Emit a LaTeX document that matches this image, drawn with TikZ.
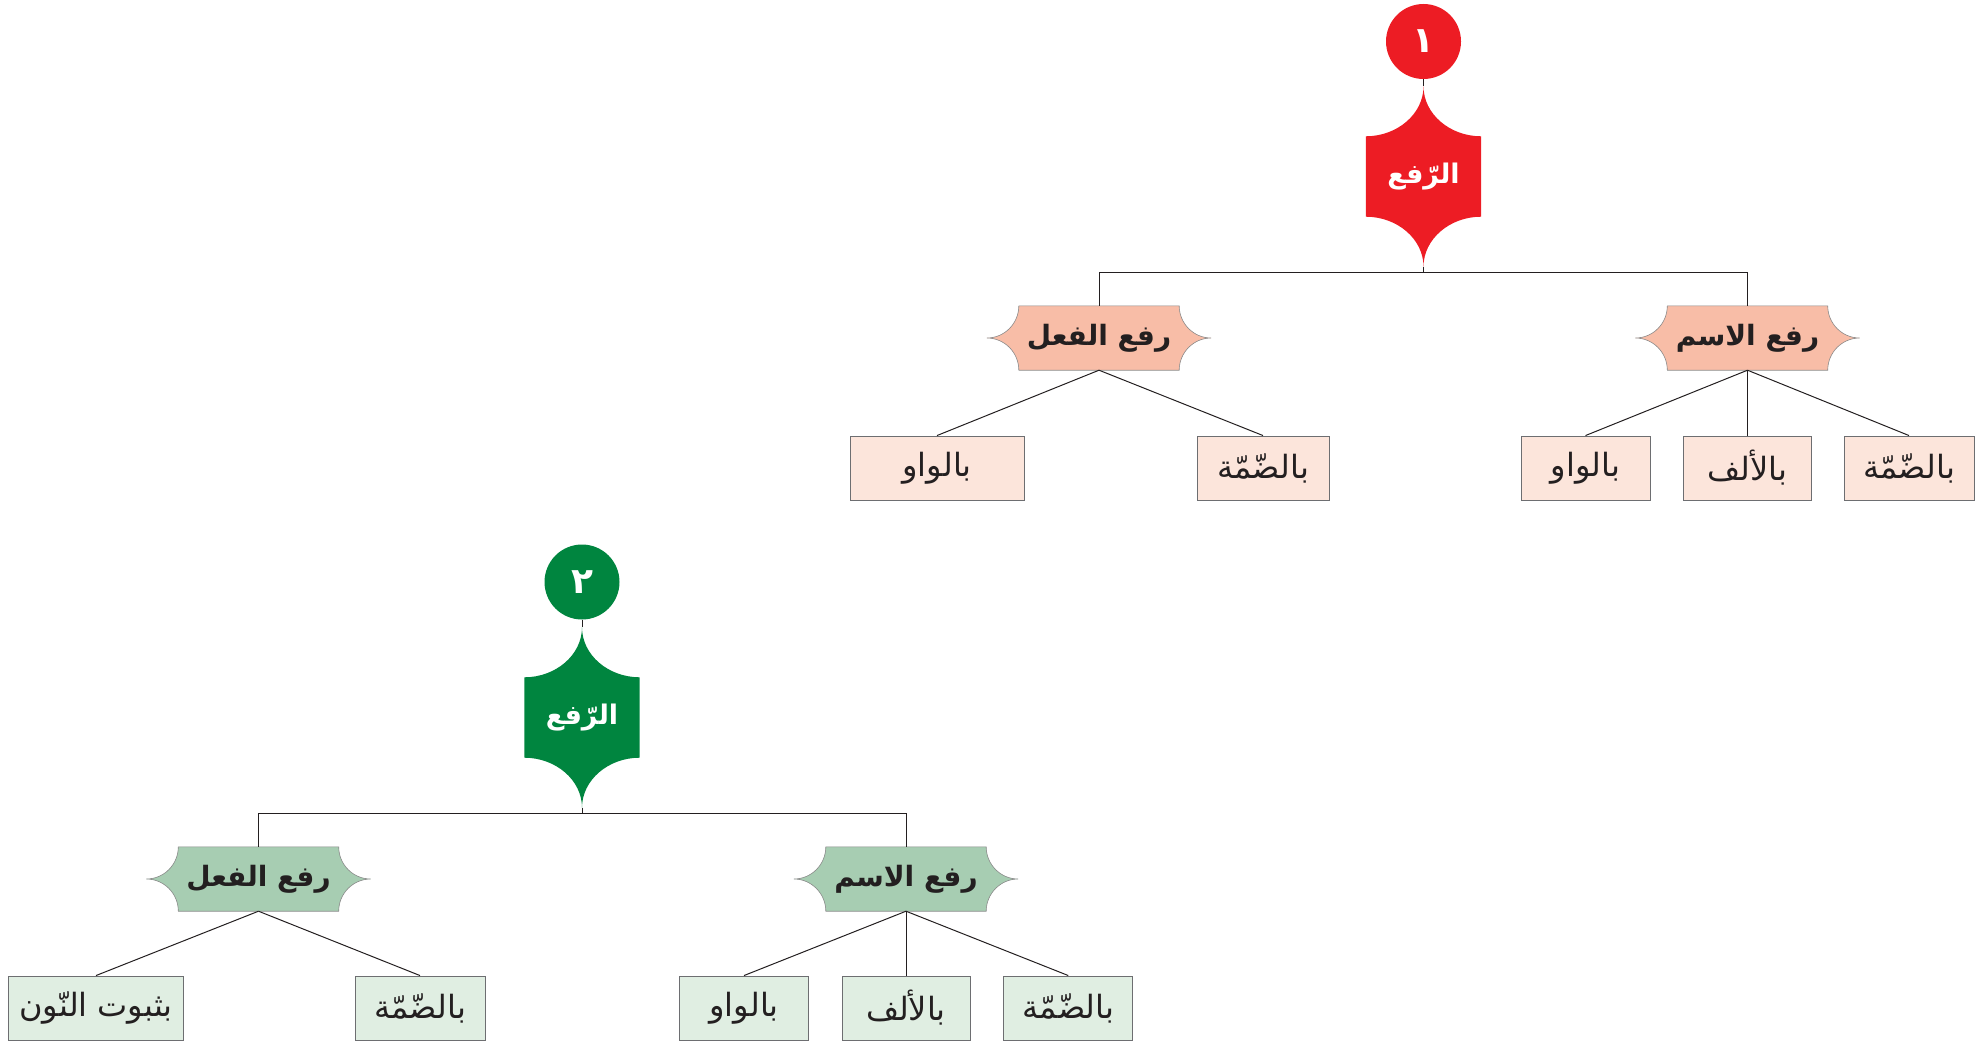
\documentclass[tikz,border=0pt]{standalone}
\usepackage{fontspec}
\newfontfamily\arabicfont[Script=Arabic]{DejaVu Sans}
\TeXXeTstate=1
\usetikzlibrary{calc,backgrounds}
\newcommand{\ar}[1]{\arabicfont\beginR #1\endR}
\definecolor{redT}{HTML}{ED1C24}
\definecolor{salmon}{HTML}{F8BDA7}
\definecolor{peach}{HTML}{FCE5DB}
\definecolor{greenT}{HTML}{00853F}
\definecolor{greenM}{HTML}{A7CDB2}
\definecolor{greenL}{HTML}{E0EEE2}
\definecolor{lineC}{HTML}{231F20}
\definecolor{leafedge}{HTML}{6D6E71}
\definecolor{catedge}{HTML}{8A8A8A}
\newcommand{\drawTitleShape}[2]{%
 \path[fill=#2] (#1.north west) .. controls ($(#1.north west)+(31.5pt,0pt)$) and ($(#1.north)+(0pt,22.4pt)$) .. ($(#1.north)+(0pt,50pt)$) .. controls ($(#1.north)+(0pt,22.4pt)$) and ($(#1.north east)+(-31.5pt,0pt)$) .. (#1.north east) -- (#1.south east) .. controls ($(#1.south east)+(-31.5pt,0pt)$) and ($(#1.south)+(0pt,-22.4pt)$) .. ($(#1.south)+(0pt,-50pt)$) .. controls ($(#1.south)+(0pt,-22.4pt)$) and ($(#1.south west)+(31.5pt,0pt)$) .. (#1.south west) -- cycle;}
\newcommand{\drawCatShape}[2]{%
 \path[fill=#2, draw=catedge, line width=0.6pt] (#1.north west) -- (#1.north east) .. controls ($(#1.north east)+(0pt,-17.7pt)$) and ($(#1.east)+(14.3pt,0pt)$) .. ($(#1.east)+(32pt,0pt)$) .. controls ($(#1.east)+(14.3pt,0pt)$) and ($(#1.south east)+(0pt,17.7pt)$) .. (#1.south east) -- (#1.south west) .. controls ($(#1.south west)+(0pt,17.7pt)$) and ($(#1.west)+(-14.3pt,0pt)$) .. ($(#1.west)+(-32pt,0pt)$) .. controls ($(#1.west)+(-14.3pt,0pt)$) and ($(#1.north west)+(0pt,-17.7pt)$) .. (#1.north west) -- cycle;}
\begin{document}
\begin{tikzpicture}[x=1pt,y=-1pt,
  conn/.style={draw=lineC, line width=1pt},
  leafbox/.style={draw=leafedge, line width=0.9pt, minimum height=64pt, inner sep=0pt, text=lineC, font=\fontsize{32}{36}\selectfont},
  redleaf/.style={leafbox, fill=peach},
  greenleaf/.style={leafbox, fill=greenL},
  catbox/.style={minimum width=160pt, minimum height=64pt, inner sep=0pt, text=lineC, font=\fontsize{28}{32}\selectfont\bfseries},
  titlebox/.style={minimum width=115pt, minimum height=80pt, inner sep=0pt, text=white, font=\fontsize{27}{30}\selectfont\bfseries},
  numcircle/.style={circle, minimum size=75pt, inner sep=0pt, text=white, font=\fontsize{36}{40}\selectfont\bfseries}]
\useasboundingbox (0,0) rectangle (1987,1041);
% ---------- tree 1 ----------
\node[numcircle, fill=redT] (n1) at (1423.5,41.5) {\ar{١}};
\node[titlebox] (t1) at (1423.5,176.5) {\ar{الرّفع}};
\coordinate (t1top) at ($(t1.north)+(0pt,50pt)$);
\coordinate (t1bot) at ($(t1.south)+(0pt,-50pt)$);
\coordinate (b1) at (1423.5,272.5);
\node[catbox] (v1) at (1099,338) {\ar{رفع الفعل}};
\node[catbox] (s1) at (1747.5,338) {\ar{رفع الاسم}};
\node[redleaf, minimum width=174pt] (v1a) at (937,468) {\ar{بالواو}};
\node[redleaf, minimum width=132pt] (v1b) at (1263,468) {\ar{بالضّمّة}};
\node[redleaf, minimum width=129pt] (s1a) at (1585.5,468) {\ar{بالواو}};
\node[redleaf, minimum width=128pt] (s1b) at (1747.5,468) {\ar{بالألف}};
\node[redleaf, minimum width=130pt] (s1c) at (1909,468) {\ar{بالضّمّة}};
% ---------- tree 2 ----------
\node[numcircle, fill=greenT] (n2) at (582,582) {\ar{٢}};
\node[titlebox] (t2) at (582,717.5) {\ar{الرّفع}};
\coordinate (t2top) at ($(t2.north)+(0pt,50pt)$);
\coordinate (t2bot) at ($(t2.south)+(0pt,-50pt)$);
\coordinate (b2) at (582,813.5);
\node[catbox] (v2) at (258.5,879) {\ar{رفع الفعل}};
\node[catbox] (s2) at (906,879) {\ar{رفع الاسم}};
\node[greenleaf, minimum width=175pt] (v2a) at (96,1008) {\ar{بثبوت النّون}};
\node[greenleaf, minimum width=130pt] (v2b) at (420,1008) {\ar{بالضّمّة}};
\node[greenleaf, minimum width=129pt] (s2a) at (744,1008) {\ar{بالواو}};
\node[greenleaf, minimum width=128pt] (s2b) at (906,1008) {\ar{بالألف}};
\node[greenleaf, minimum width=129pt] (s2c) at (1068.3,1008) {\ar{بالضّمّة}};
% ---------- shapes behind ----------
\begin{pgfonlayer}{background}
\drawTitleShape{t1}{redT}
\drawTitleShape{t2}{greenT}
\drawCatShape{v1}{salmon}
\drawCatShape{s1}{salmon}
\drawCatShape{v2}{greenM}
\drawCatShape{s2}{greenM}
\end{pgfonlayer}
% ---------- connectors ----------
\draw[conn] (n1) -- (t1top);
\draw[conn] (t1bot) -- (b1);
\draw[conn] (v1.north) |- (b1) -| (s1.north);
\draw[conn] (v1.south) -- (v1a.north);
\draw[conn] (v1.south) -- (v1b.north);
\draw[conn] (s1.south) -- (s1a.north);
\draw[conn] (s1.south) -- (s1b.north);
\draw[conn] (s1.south) -- (s1c.north);
\draw[conn] (n2) -- (t2top);
\draw[conn] (t2bot) -- (b2);
\draw[conn] (v2.north) |- (b2) -| (s2.north);
\draw[conn] (v2.south) -- (v2a.north);
\draw[conn] (v2.south) -- (v2b.north);
\draw[conn] (s2.south) -- (s2a.north);
\draw[conn] (s2.south) -- (s2b.north);
\draw[conn] (s2.south) -- (s2c.north);
\end{tikzpicture}
\end{document}
